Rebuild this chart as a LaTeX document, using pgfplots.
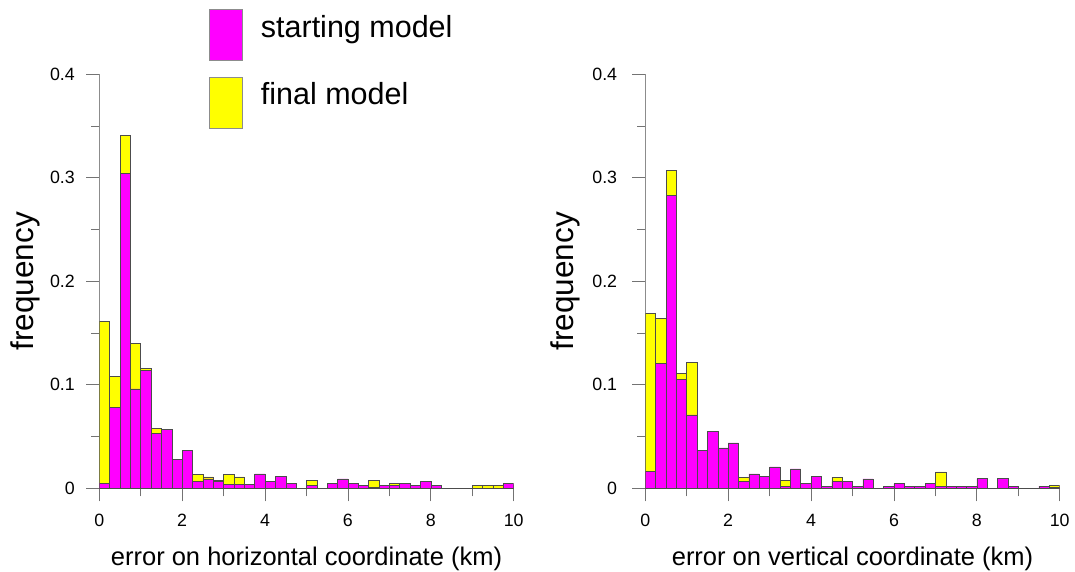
\documentclass[border=0pt]{standalone}
\usepackage{pgfplots}
\pgfplotsset{compat=1.18}
\usepackage{fontspec}
\setmainfont{Liberation Sans}
\definecolor{mag}{RGB}{255,0,255}
\definecolor{yel}{RGB}{255,255,0}

\pgfplotsset{
  histaxis/.style={
    scale only axis,
    width=414.4pt, height=414pt,
    xmin=0, xmax=10, ymin=0, ymax=0.4,
    axis lines*=left,
    x axis line style={black!80, line width=0.8pt},
    y axis line style={black!45, line width=0.8pt},
    tick style={black!55, line width=0.8pt},
    tick align=outside,
    major tick length=13pt,
    minor tick length=8pt,
    xtick={0,2,4,6,8,10},
    minor xtick={1,3,5,7,9},
    ytick={0,0.1,0.2,0.3,0.4},
    yticklabels={0,0.1,0.2,0.3,0.4},
    minor ytick={0.05,0.15,0.25,0.35},
    /pgf/number format/assume math mode=true,
    tick label style={font=\fontsize{17.8}{21}\selectfont, inner sep=0pt},
    xticklabel style={anchor=north},
    yticklabel style={anchor=east},
    xticklabel shift=13pt,
    xlabel style={font=\fontsize{25.5}{30}\selectfont, at={(axis description cs:0.5,0)}, anchor=center, yshift=-70.5pt},
    ylabel style={font=\fontsize{31.5}{36}\selectfont, anchor=center},
    clip=true,
  },
  magbar/.style={ybar interval, fill=mag, draw=black!70, line width=0.5pt},
  yelbar/.style={ybar interval, fill=yel, draw=black!70, line width=0.5pt},
}

% bin left edge, starting model (s, magenta), final model (f, yellow)
\pgfplotstableread{
x    s       f
0    0.005   0.161
0.25 0.078   0.108
0.5  0.304   0.341
0.75 0.096   0.140
1.0  0.114   0.116
1.25 0.053   0.058
1.5  0.057   0.050
1.75 0.028   0.020
2.0  0.037   0.020
2.25 0.007   0.0135
2.5  0.009   0.011
2.75 0.007   0.008
3.0  0.004   0.0135
3.25 0.004   0.011
3.5  0.004   0.003
3.75 0.014   0.006
4.0  0.0065  0.004
4.25 0.0115  0.005
4.5  0.0048  0.002
4.75 0       0
5.0  0.0025  0.008
5.25 0       0
5.5  0.0045  0.002
5.75 0.009   0.004
6.0  0.005   0.002
6.25 0.0025  0
6.5  0.001   0.008
6.75 0.0025  0
7.0  0.0025  0.005
7.25 0.0045  0.002
7.5  0.0025  0
7.75 0.0068  0.002
8.0  0.0025  0
8.25 0       0
8.5  0       0
8.75 0       0
9.0  0       0.0025
9.25 0       0.0025
9.5  0       0.0025
9.75 0.0045  0.0025
10   0       0
}\horiz

\pgfplotstableread{
x    s       f
0    0.016   0.169
0.25 0.121   0.164
0.5  0.283   0.307
0.75 0.105   0.111
1.0  0.071   0.122
1.25 0.037   0.030
1.5  0.055   0.040
1.75 0.039   0.030
2.0  0.044   0.030
2.25 0.007   0.0106
2.5  0.014   0.010
2.75 0.0116  0.008
3.0  0.0206  0.010
3.25 0.002   0.008
3.5  0.0187  0.006
3.75 0.0045  0.003
4.0  0.0116  0.005
4.25 0.002   0
4.5  0.0068  0.0106
4.75 0.0068  0.004
5.0  0.002   0
5.25 0.009   0.003
5.5  0       0
5.75 0.002   0
6.0  0.0045  0.002
6.25 0.002   0
6.5  0.002   0
6.75 0.0045  0.002
7.0  0.002   0.0158
7.25 0.002   0
7.5  0.002   0
7.75 0.002   0
8.0  0.0093  0.003
8.25 0       0
8.5  0.0093  0.002
8.75 0.002   0
9.0  0       0
9.25 0       0
9.5  0.002   0
9.75 0.001   0.003
10   0       0
}\vert

\begin{document}
\begin{tikzpicture}[x=1pt,y=1pt]
\useasboundingbox (0,0) rectangle (1075,571);

\begin{axis}[histaxis,
  at={(99.3pt,82.7pt)}, anchor=south west,
  yticklabel shift=11.3pt,
  xlabel={error on horizontal coordinate (km)},
  ylabel={frequency},
  ylabel style={at={(axis description cs:-0.1793,0.5)}},
  legend style={at={(axis description cs:0.2655,1.157)}, anchor=north west,
    draw=none, fill=none, inner sep=0pt, outer sep=0pt,
    font=\fontsize{30.5}{36}\selectfont,
    row sep=16.4pt,
    nodes={inner sep=0pt, outer sep=0pt},
    /tikz/every odd column/.append style={column sep=18pt}},
  legend cell align=left,
  legend image code/.code={\draw[#1, draw=black!45, line width=0.6pt] (0pt,-33.3pt) rectangle (33pt,17.3pt);},
  reverse legend,
]
\addplot[yelbar] table[x=x, y=f] {\horiz};
\addlegendentry{final model}
\addplot[magbar] table[x=x, y=s] {\horiz};
\addlegendentry{starting model}
\end{axis}

\begin{axis}[histaxis,
  at={(645.3pt,82.7pt)}, anchor=south west,
  yticklabel shift=15pt,
  xlabel={error on vertical coordinate (km)},
  ylabel={frequency},
  ylabel style={at={(axis description cs:-0.1938,0.5)}},
]
\addplot[yelbar] table[x=x, y=f] {\vert};
\addplot[magbar] table[x=x, y=s] {\vert};
\end{axis}
\end{tikzpicture}
\end{document}
